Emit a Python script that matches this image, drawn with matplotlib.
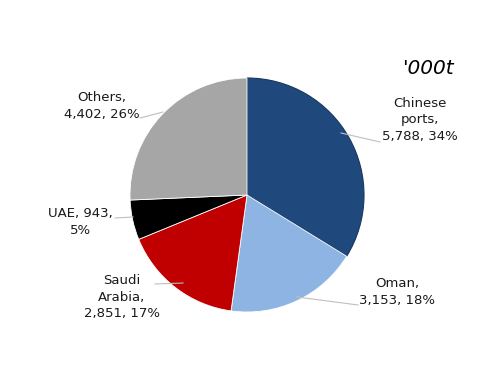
import matplotlib.pyplot as plt

# ─── data ───────────────────────────────────────────────────────────
labels = ['Chinese\nports', 'Oman', 'Saudi\nArabia', 'UAE', 'Others']
values = [5788, 3153, 2851, 943, 4402]
pcts   = [34, 18, 17, 5, 26]
colors = ['#1F497D', '#8DB4E2', '#C00000', '#000000', '#A6A6A6']

# label texts as they appear on the chart
texts = ['Chinese\nports,\n5,788, 34%',
         'Oman,\n3,153, 18%',
         'Saudi\nArabia,\n2,851, 17%',
         'UAE, 943,\n5%',
         'Others,\n4,402, 26%']

# ─── figure ─────────────────────────────────────────────────────────
W, H = 500, 386
cx, cy, R = 247, 195, 117          # pie centre / radius in pixels
fig = plt.figure(figsize=(W / 100, H / 100), dpi=100)
ax = fig.add_axes([0, 0, 1, 1])

wedges, _ = ax.pie(values, colors=colors, startangle=90, counterclock=False,
                   radius=1, wedgeprops=dict(linewidth=0.6, edgecolor='white'))
# the first slice has a dark outline in the original
wedges[0].set_edgecolor('#17375E')
wedges[0].set_linewidth(0.8)

ax.set_aspect('equal')
ax.set_xlim(-cx / R, (W - cx) / R)
ax.set_ylim(-(H - cy) / R, cy / R)
ax.axis('off')


def px(x, y):
    # pixel position (top-left origin) -> data coords
    return (x - cx) / R, (cy - y) / R


# text centre positions and leader lines (text end -> pie edge)
label_pos = [(420, 120), (397, 292), (122, 297), (80, 222), (102, 106)]
leaders = [((380, 142), (341, 133)),
           ((358, 305), (297, 297)),
           ((155, 284), (183, 283)),
           ((115, 218), (133, 217)),
           ((140, 118), (163, 112))]

for t, (lx, ly), (p0, p1) in zip(texts, label_pos, leaders):
    ax.text(*px(lx, ly), t, ha='center', va='center', fontsize=9.5,
            linespacing=1.35, color='#1a1a1a')
    (x0, y0), (x1, y1) = px(*p0), px(*p1)
    ax.plot([x0, x1], [y0, y1], color='#bfbfbf', lw=0.8)

ax.text(*px(428, 69), "'000t", ha='center', va='center', fontsize=14.5,
        style='italic', color='black')

fig.savefig('out.png', dpi=100)
